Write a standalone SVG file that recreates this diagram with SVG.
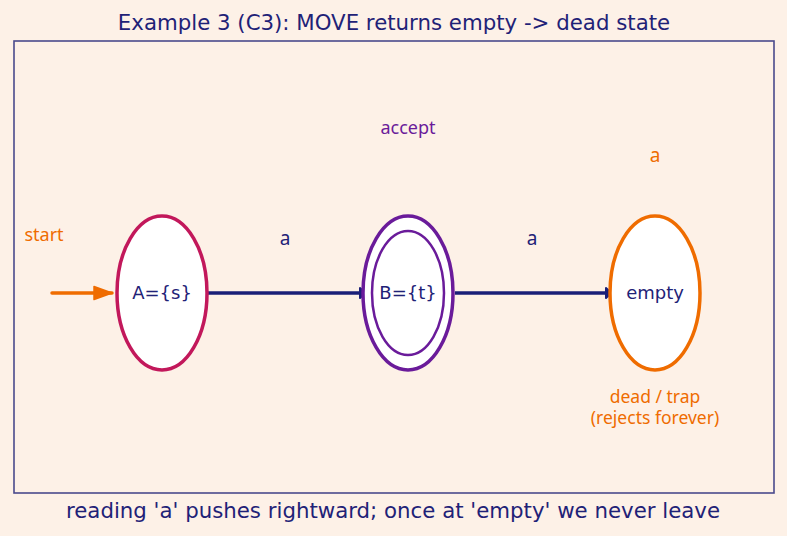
<svg xmlns="http://www.w3.org/2000/svg" width="787" height="536" viewBox="0 0 787 536">
<defs>
<style>
.t{font-family:"DejaVu Sans",sans-serif;fill:#1f2277;font-size:21.3px;text-anchor:middle}
.n{font-family:"DejaVu Sans",sans-serif;font-size:18px;fill:#1f2277;text-anchor:middle}
.l{font-family:"Noto Sans","Open Sans",sans-serif;text-anchor:middle}
.node{fill:#ffffff;stroke-width:3.5}
.edge{stroke:#1a1f78;stroke-width:3.5;fill:none}
</style>
<marker id="ah" markerWidth="12" markerHeight="16" refX="5" refY="8" orient="auto" markerUnits="userSpaceOnUse">
<path d="M1,3 L5,6.8 L5,9.2 L1,13 Z" fill="#1a1f78" stroke="#1a1f78" stroke-width="2" stroke-linejoin="round"/>
</marker>
<marker id="ahs" markerWidth="22" markerHeight="18" refX="19" refY="9" orient="auto" markerUnits="userSpaceOnUse">
<path d="M1,2.5 L19,9 L1,15.5 Z" fill="#ef6c00" stroke="#ef6c00" stroke-width="1.5" stroke-linejoin="round"/>
</marker>
</defs>
<rect x="0" y="0" width="787" height="536" fill="#fdf1e7"/>
<text class="t" x="394" y="30">Example 3 (C3): MOVE returns empty -&gt; dead state</text>
<rect x="14" y="41" width="760" height="452" fill="none" stroke="#4a4a8c" stroke-width="1.6"/>
<g id="connectors">
<line x1="52" y1="293" x2="112" y2="293" stroke="#ef6c00" stroke-width="3.5" stroke-linecap="round" marker-end="url(#ahs)"/>
<line class="edge" x1="208" y1="293" x2="364" y2="293" marker-end="url(#ah)"/>
<line class="edge" x1="455" y1="293" x2="610" y2="293" marker-end="url(#ah)"/>
<text class="l" x="285" y="245" font-size="19" fill="#1f2277">a</text>
<text class="l" x="532" y="245" font-size="19" fill="#1f2277">a</text>
<text class="l" x="655" y="162" font-size="19" fill="#ef6c00">a</text>
<text class="l" x="44" y="241" font-size="18" fill="#ef6c00">start</text>
</g>
<g id="nodeA">
<ellipse class="node" cx="162" cy="293" rx="45" ry="77" stroke="#c2185b"/>
<text class="n" x="162" y="299">A={s}</text>
</g>
<g id="nodeB">
<ellipse class="node" cx="408" cy="293" rx="45" ry="77" stroke="#6a1b9a"/>
<ellipse cx="408" cy="293" rx="36" ry="62" fill="none" stroke="#6a1b9a" stroke-width="2.5"/>
<text class="n" x="408" y="299">B={t}</text>
<text class="l" x="408" y="134" font-size="18" fill="#6a1b9a">accept</text>
</g>
<g id="nodeEmpty">
<ellipse class="node" cx="655" cy="293" rx="45" ry="77" stroke="#ef6c00"/>
<text class="n" x="655" y="299">empty</text>
<text class="l" x="655" y="403" font-size="17.5" fill="#ef6c00">dead / trap</text>
<text class="l" x="655" y="424" font-size="17.5" fill="#ef6c00">(rejects forever)</text>
</g>
<text class="t" x="393" y="518">reading 'a' pushes rightward; once at 'empty' we never leave</text>
</svg>
